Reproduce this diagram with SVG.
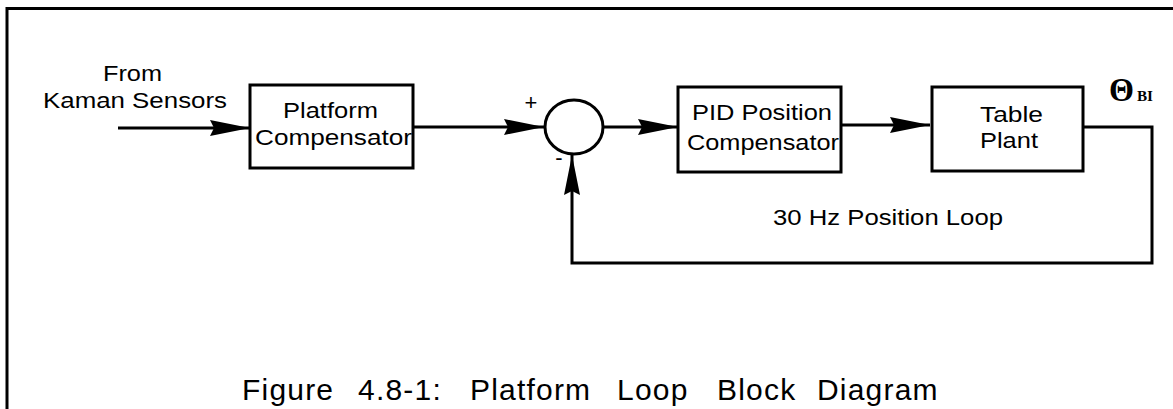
<svg xmlns="http://www.w3.org/2000/svg" width="1173" height="409" viewBox="0 0 1173 409">
  <defs>
    <style>
      .frame { fill: none; stroke: #000; stroke-width: 3; }
      .block { fill: #fff; stroke: #000; stroke-width: 3; }
      .wire { fill: none; stroke: #000; stroke-width: 3; }
      .lbl { font-family: "Liberation Sans", Arial, Helvetica, sans-serif; font-size: 22px; fill: #000; }
      .cap { font-family: "Liberation Sans", Arial, Helvetica, sans-serif; font-size: 30px; letter-spacing: 1.2px; fill: #000; }
      .sym { font-family: "Liberation Serif", "Times New Roman", serif; font-weight: bold; fill: #000; }
    </style>
    <marker id="arrow" viewBox="0 0 40 16" refX="40" refY="8" markerWidth="40" markerHeight="16" markerUnits="userSpaceOnUse" orient="auto">
      <path d="M0,0 L40,8 L0,16 L4,8 Z" fill="#000"/>
    </marker>
  </defs>

  <rect width="1173" height="409" fill="#fff"/>

  <!-- outer border (open at right and bottom) -->
  <path class="frame" d="M7,409 V8.5 H1173"/>

  <!-- connectors -->
  <g id="connectors">
    <line class="wire" x1="118" y1="128" x2="250" y2="128" marker-end="url(#arrow)"/>
    <line class="wire" x1="413" y1="127" x2="544" y2="127" marker-end="url(#arrow)"/>
    <line class="wire" x1="603" y1="127" x2="678" y2="127" marker-end="url(#arrow)"/>
    <line class="wire" x1="841" y1="125" x2="930" y2="125" marker-end="url(#arrow)"/>
    <path class="wire" d="M1083,127 H1152 V263 H572 V155" marker-end="url(#arrow)"/>
  </g>

  <!-- input label -->
  <g id="input-label">
    <text class="lbl" x="103" y="81" textLength="59" lengthAdjust="spacingAndGlyphs">From</text>
    <text class="lbl" x="43" y="108" textLength="184" lengthAdjust="spacingAndGlyphs">Kaman Sensors</text>
  </g>

  <!-- Platform Compensator -->
  <g id="platform-compensator">
    <rect class="block" x="250" y="85" width="163" height="83"/>
    <text class="lbl" x="283" y="118" textLength="95" lengthAdjust="spacingAndGlyphs">Platform</text>
    <text class="lbl" x="255" y="145" textLength="157" lengthAdjust="spacingAndGlyphs">Compensator</text>
  </g>

  <!-- summing junction -->
  <g id="sum">
    <ellipse class="block" cx="574" cy="127" rx="29" ry="27"/>
    <text class="lbl" x="531" y="110" text-anchor="middle" font-size="18">+</text>
    <text class="lbl" x="559" y="165" text-anchor="middle" font-size="18">-</text>
  </g>

  <!-- PID Position Compensator -->
  <g id="pid-compensator">
    <rect class="block" x="678" y="87" width="163" height="85"/>
    <text class="lbl" x="692" y="120" textLength="140" lengthAdjust="spacingAndGlyphs">PID Position</text>
    <text class="lbl" x="687" y="150" textLength="152" lengthAdjust="spacingAndGlyphs">Compensator</text>
  </g>

  <!-- Table Plant -->
  <g id="table-plant">
    <rect class="block" x="932" y="87" width="151" height="84"/>
    <text class="lbl" x="980" y="122" textLength="63" lengthAdjust="spacingAndGlyphs">Table</text>
    <text class="lbl" x="980" y="148" textLength="58" lengthAdjust="spacingAndGlyphs">Plant</text>
  </g>

  <!-- output symbol -->
  <g id="output">
    <text class="sym" x="1109" y="101" font-size="34" textLength="25" lengthAdjust="spacingAndGlyphs">Θ</text>
    <text class="sym" x="1137" y="101" font-size="14" textLength="16" lengthAdjust="spacingAndGlyphs">BI</text>
  </g>

  <!-- loop label -->
  <text class="lbl" x="773" y="225" textLength="230" lengthAdjust="spacingAndGlyphs">30 Hz Position Loop</text>

  <!-- caption, words spaced out -->
  <text class="cap" y="400"><tspan x="242">Figure</tspan><tspan x="358">4.8-1:</tspan><tspan x="470">Platform</tspan><tspan x="617">Loop</tspan><tspan x="717">Block</tspan><tspan x="817">Diagram</tspan></text>
</svg>
